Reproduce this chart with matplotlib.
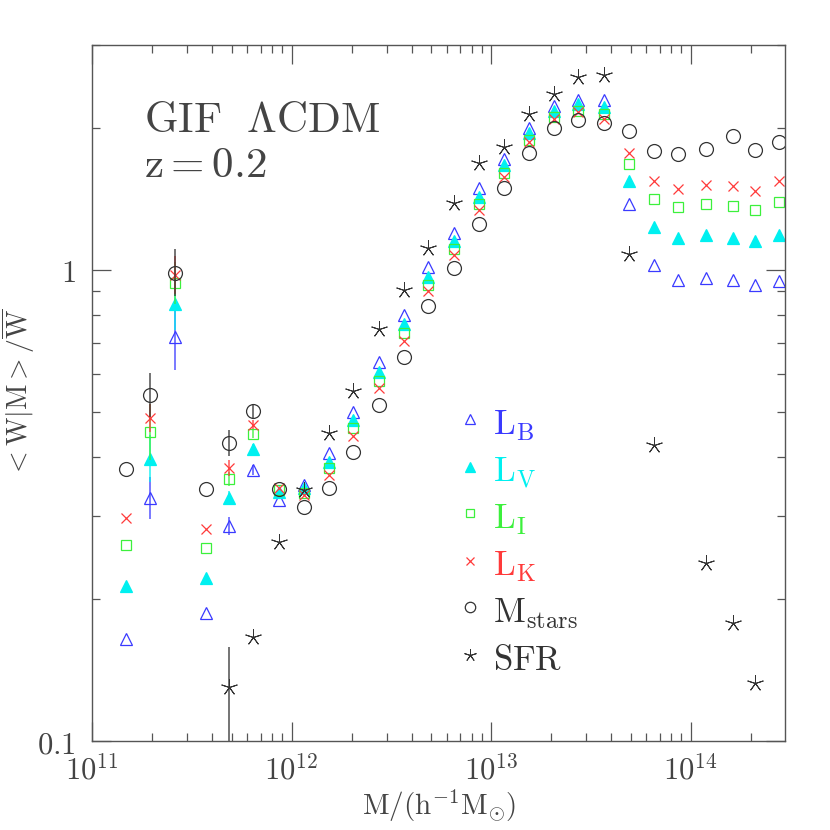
# Mean weight per halo mass bin, GIF LCDM at z=0.2
import numpy as np
import matplotlib.pyplot as plt
from matplotlib.ticker import FixedLocator, FuncFormatter, NullFormatter

plt.rcParams['mathtext.fontset'] = 'cm'
plt.rcParams['font.family'] = 'serif'
plt.rcParams['font.serif'] = ['DejaVu Serif']

nan = np.nan

# halo mass bins (h^-1 Msun)
mass = [1.48e11, 1.95e11, 2.61e11, 3.74e11, 4.88e11, 6.44e11, 8.61e11, 1.15e12,
        1.535e12, 2.03e12, 2.74e12, 3.66e12, 4.82e12, 6.52e12, 8.71e12, 1.16e13,
        1.55e13, 2.07e13, 2.74e13, 3.70e13, 4.93e13, 6.59e13, 8.61e13, 1.20e14,
        1.63e14, 2.10e14, 2.77e14]

L_B = [0.165, 0.328, 0.721, 0.187, 0.286, 0.376, 0.325, 0.350, 0.409, 0.500,
       0.638, 0.803, 1.015, 1.198, 1.493, 1.721, 2.002, 2.229, 2.296, 2.296,
       1.381, 1.025, 0.952, 0.962, 0.952, 0.929, 0.948]
L_V = [0.213, 0.397, 0.847, 0.222, 0.328, 0.417, 0.338, 0.345, 0.391, 0.480,
       0.608, 0.768, 0.966, 1.152, 1.429, 1.671, 1.954, 2.176, 2.251, 2.218,
       1.545, 1.234, 1.169, 1.187, 1.169, 1.152, 1.187]
L_I = [0.261, 0.453, 0.938, 0.257, 0.360, 0.449, 0.341, 0.336, 0.380, 0.462,
       0.581, 0.735, 0.929, 1.108, 1.381, 1.607, 1.888, 2.112, 2.176, 2.144,
       1.679, 1.415, 1.361, 1.381, 1.367, 1.341, 1.394]
L_K = [0.298, 0.485, 0.976, 0.282, 0.380, 0.469, 0.345, 0.333, 0.367, 0.444,
       0.562, 0.707, 0.902, 1.076, 1.341, 1.576, 1.869, 2.092, 2.165, 2.092,
       1.772, 1.545, 1.486, 1.515, 1.508, 1.472, 1.545]
M_stars = [0.378, 0.543, 0.985, 0.343, 0.429, 0.502, 0.343, 0.314, 0.345, 0.411,
           0.517, 0.654, 0.839, 1.010, 1.252, 1.493, 1.772, 2.002, 2.083, 2.051,
           1.973, 1.789, 1.763, 1.806, 1.925, 1.798, 1.869]
SFR = [nan, nan, nan, nan, 0.130, 0.166, 0.265, 0.341, 0.451, 0.554,
       0.749, 0.907, 1.114, 1.388, 1.687, 1.824, 2.144, 2.364, 2.569, 2.594,
       1.081, 0.425, nan, 0.239, 0.178, 0.133, nan]

# error bars (dex) for the six lowest mass bins, zero elsewhere
L_B_err = [0, 0.045, 0.07, 0, 0.02, 0.01]
L_V_err = [0, 0.05, 0.055, 0, 0.015, 0.01]
L_I_err = [0, 0.06, 0.045, 0, 0.015, 0.01]
L_K_err = [0, 0.03, 0.04, 0, 0.017, 0.01]
M_stars_err = [0, 0.047, 0.05, 0, 0.028, 0.015]
SFR_err_up = [0, 0, 0, 0, 0.085, 0]
SFR_err_dn = [0, 0, 0, 0, 0.5, 0]

labels = [r'$\mathrm{L_B}$', r'$\mathrm{L_V}$', r'$\mathrm{L_I}$', r'$\mathrm{L_K}$',
          r'$\mathrm{M_{stars}}$', r'$\mathrm{SFR}$']


def dex_err(y, lo, hi):
    n = len(y)
    lo = np.array(list(lo) + [0] * (n - len(lo)), dtype=float)
    hi = np.array(list(hi) + [0] * (n - len(hi)), dtype=float)
    y = np.array(y, dtype=float)
    return np.vstack([y - y * 10 ** (-lo), y * 10 ** hi - y])


series = [
    (L_B, L_B_err, L_B_err, dict(marker='^', ms=9, mfc='none', mec='#3a3aff', mew=0.9), '#3a3aff'),
    (L_V, L_V_err, L_V_err, dict(marker='^', ms=9, mfc='#00f0f0', mec='#00f0f0', mew=0.9), '#00f0f0'),
    (L_I, L_I_err, L_I_err, dict(marker='s', ms=7, mfc='none', mec='#3cf03c', mew=0.9), '#3cf03c'),
    (L_K, L_K_err, L_K_err, dict(marker='x', ms=7.5, mec='#ff3a3a', mew=0.9), '#ff3a3a'),
    (M_stars, M_stars_err, M_stars_err, dict(marker='o', ms=10, mfc='none', mec='#333333', mew=0.9), '#333333'),
    (SFR, SFR_err_dn, SFR_err_up, dict(marker=(5, 2, 0), ms=12, mec='#333333', mew=0.7), '#333333'),
]

fig = plt.figure(figsize=(8.3, 8.3), dpi=100)
ax = fig.add_axes([0.111, 0.107, 0.835, 0.839])
ax.set_xscale('log')
ax.set_yscale('log')

for y, lo, hi, style, col in series:
    ax.errorbar(mass, y, yerr=dex_err(y, lo, hi), fmt='none', ecolor=col,
                elinewidth=1.2, capsize=0, alpha=0.8)
    ax.plot(mass, y, ls='none', **style)

ax.set_xlim(1e11, 2.98e14)
ax.set_ylim(0.1, 3.0)

# legend drawn by hand
leg_y = [0.440, 0.372, 0.305, 0.237, 0.170, 0.102]
for (y, lo, hi, style, col), lab, ly in zip(series, labels, leg_y):
    st = dict(style)
    st['ms'] = st['ms'] * 0.75
    ax.plot([0.545], [ly + 0.022], ls='none', transform=ax.transAxes, **st)
    ax.text(0.578, ly, lab, transform=ax.transAxes, fontsize=25, color=col,
            va='baseline', ha='left')

ax.text(0.075, 0.875, r'$\mathrm{GIF}\ \ \Lambda\mathrm{CDM}$', transform=ax.transAxes,
        fontsize=31, color='#444444', va='baseline')
ax.text(0.075, 0.81, r'$\mathrm{z}=0.2$', transform=ax.transAxes,
        fontsize=31, color='#444444', va='baseline')

# ticks
ax.xaxis.set_major_locator(FixedLocator([1e11, 1e12, 1e13, 1e14]))
ax.xaxis.set_major_formatter(FuncFormatter(lambda v, p: r'$10^{%d}$' % round(np.log10(v))))
ax.xaxis.set_minor_formatter(NullFormatter())
ax.yaxis.set_major_locator(FixedLocator([0.1, 1]))
ax.yaxis.set_major_formatter(FuncFormatter(lambda v, p: r'$0.1$' if v < 0.5 else r'$1$'))
ax.yaxis.set_minor_locator(FixedLocator([0.2, 0.3, 0.4, 0.5, 0.6, 0.7, 0.8, 0.9, 2, 3]))
ax.yaxis.set_minor_formatter(NullFormatter())

ax.tick_params(which='both', direction='in', top=True, right=True, colors='#555555',
               labelcolor='#444444', labelsize=22)
ax.tick_params(which='major', length=14, width=0.9)
ax.tick_params(axis='x', which='major', pad=10)
ax.tick_params(axis='y', which='major', pad=12)
ax.tick_params(which='minor', length=6, width=0.9)
for s in ax.spines.values():
    s.set_color('#555555')
    s.set_linewidth(1.0)

ax.set_xlabel(r'$\mathrm{M/(h^{-1}M_{\odot})}$', fontsize=21, color='#444444', labelpad=1)
ax.set_ylabel(r'$\mathrm{<W|M>/\overline{W}}$', fontsize=20, color='#444444', labelpad=0)

fig.savefig('out.png', dpi=100)
